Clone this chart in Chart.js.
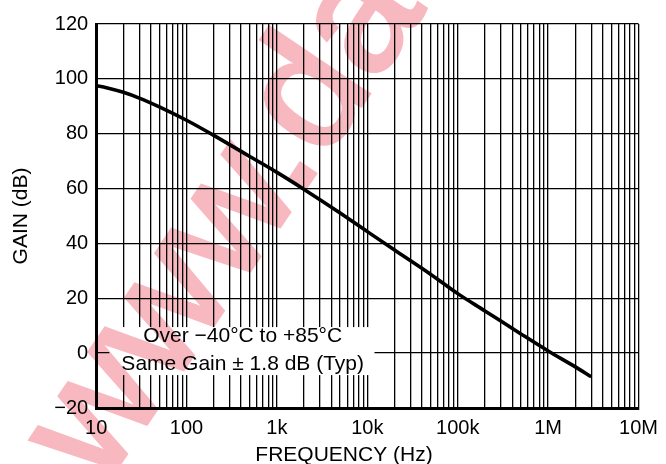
<!DOCTYPE html>
<html><head><meta charset="utf-8">
<script src="https://cdn.jsdelivr.net/npm/chart.js@4/dist/chart.umd.min.js"></script>
<style>html,body{margin:0;padding:0;background:#fff}#wrap{width:666px;height:464px}</style>
</head><body><div id="wrap"><canvas id="c" width="666" height="464"></canvas></div>
<script>
const frequencyHz = [10,13,20,30,50,100,200,500,1000,2000,5000,10000,20000,50000,100000,200000,500000,1000000,2000000,3000000];
const gainDb = [97.5,96.8,95.1,93.0,89.8,84.9,79.4,71.7,65.9,59.7,51.1,44.3,37.6,28.8,21.7,15.4,7.0,0.8,-5.0,-8.6];
const xDecades = [10,100,1000,10000,100000,1000000,10000000];
const xTickLabels = ['10','100','1k','10k','100k','1M','10M'];
const yTicks = [-20,0,20,40,60,80,100,120];
const yTickLabels = ['\u221220','0','20','40','60','80','100','120'];
const noteLines = ['Over \u221240\u00B0C to +85\u00B0C','Same Gain \u00B1 1.8 dB (Typ)'];
const xTitle = 'FREQUENCY (Hz)';
const yTitle = 'GAIN (dB)';
const watermark = 'www.datasheet4u.com';

const FAM = '"Liberation Sans", Arial, Helvetica, sans-serif';
Chart.defaults.font.family = FAM;
Chart.defaults.color = '#000';

const xGrid = [];
for (let i = 0; i < xDecades.length - 1; i++) {
  for (let k = 1; k <= 9; k++) xGrid.push(xDecades[i] * k);
}
xGrid.push(xDecades[xDecades.length - 1]);

const decor = {
  id: 'decor',
  beforeDatasetsDraw(chart) {
    const {ctx, scales: {x, y}} = chart;
    const l = x.getPixelForValue(14), r = x.getPixelForValue(12000);
    const t = y.getPixelForValue(9.5), b = y.getPixelForValue(-8);
    ctx.save();
    ctx.fillStyle = '#fff';
    ctx.fillRect(l, t, r - l, b - t);
    ctx.fillStyle = '#000';
    ctx.font = '21px ' + FAM;
    ctx.textAlign = 'center';
    ctx.textBaseline = 'middle';
    const cx = x.getPixelForValue(418);
    ctx.fillText(noteLines[0], cx, y.getPixelForValue(6.0));
    ctx.fillText(noteLines[1], cx, y.getPixelForValue(-4.0));
    ctx.restore();
  },
  afterDraw(chart) {
    const {ctx} = chart;
    ctx.save();
    ctx.fillStyle = '#000';
    ctx.font = '21px ' + FAM;
    ctx.textAlign = 'center';
    ctx.textBaseline = 'middle';
    ctx.fillText(xTitle, chart.width / 2 + 11, 455);
    ctx.restore();

    const off = document.createElement('canvas');
    off.width = chart.width; off.height = chart.height;
    const o = off.getContext('2d');
    o.translate(103, 488);
    o.rotate(-56 * Math.PI / 180);
    o.font = '165px ' + FAM;
    o.fillStyle = 'rgb(248,184,192)';
    o.strokeStyle = 'rgb(248,184,192)';
    o.lineWidth = 4;
    o.textBaseline = 'alphabetic';
    o.fillText(watermark, 0, 0);
    o.strokeText(watermark, 0, 0);

    ctx.save();
    ctx.globalCompositeOperation = 'multiply';
    ctx.drawImage(off, 0, 0);
    ctx.restore();
  }
};

new Chart(document.getElementById('c'), {
  type: 'line',
  data: {
    datasets: [{
      data: frequencyHz.map((f, i) => ({x: f, y: gainDb[i]})),
      borderColor: '#000',
      borderWidth: 3.6,
      pointRadius: 0,
      cubicInterpolationMode: 'monotone',
      fill: false
    }]
  },
  options: {
    responsive: false,
    animation: false,
    devicePixelRatio: 1,
    layout: {padding: {left: 9, right: 23, top: 24, bottom: 16}},
    plugins: {legend: {display: false}, tooltip: {enabled: false}},
    scales: {
      x: {
        type: 'logarithmic', min: 10, max: 10000000,
        afterBuildTicks(s) { s.ticks = xGrid.map(v => ({value: v})); },
        ticks: {
          autoSkip: false, maxRotation: 0, minRotation: 0, padding: 8, color: '#000',
          font: {size: 20},
          callback(v) { const i = xDecades.indexOf(v); return i >= 0 ? xTickLabels[i] : ''; }
        },
        grid: {color: '#000', lineWidth: 1.3, drawTicks: false},
        border: {color: '#000', width: 3}
      },
      y: {
        min: -20, max: 120,
        afterBuildTicks(s) { s.ticks = yTicks.map(v => ({value: v})); },
        ticks: {
          padding: 8, color: '#000', font: {size: 20},
          callback(v) { const i = yTicks.indexOf(v); return i >= 0 ? yTickLabels[i] : ''; }
        },
        grid: {color: '#000', lineWidth: 1.3, drawTicks: false},
        border: {color: '#000', width: 3},
        title: {display: true, text: yTitle, color: '#000', font: {size: 21}, padding: {top: 0, bottom: 12}}
      }
    }
  },
  plugins: [decor]
});
</script></body></html>
